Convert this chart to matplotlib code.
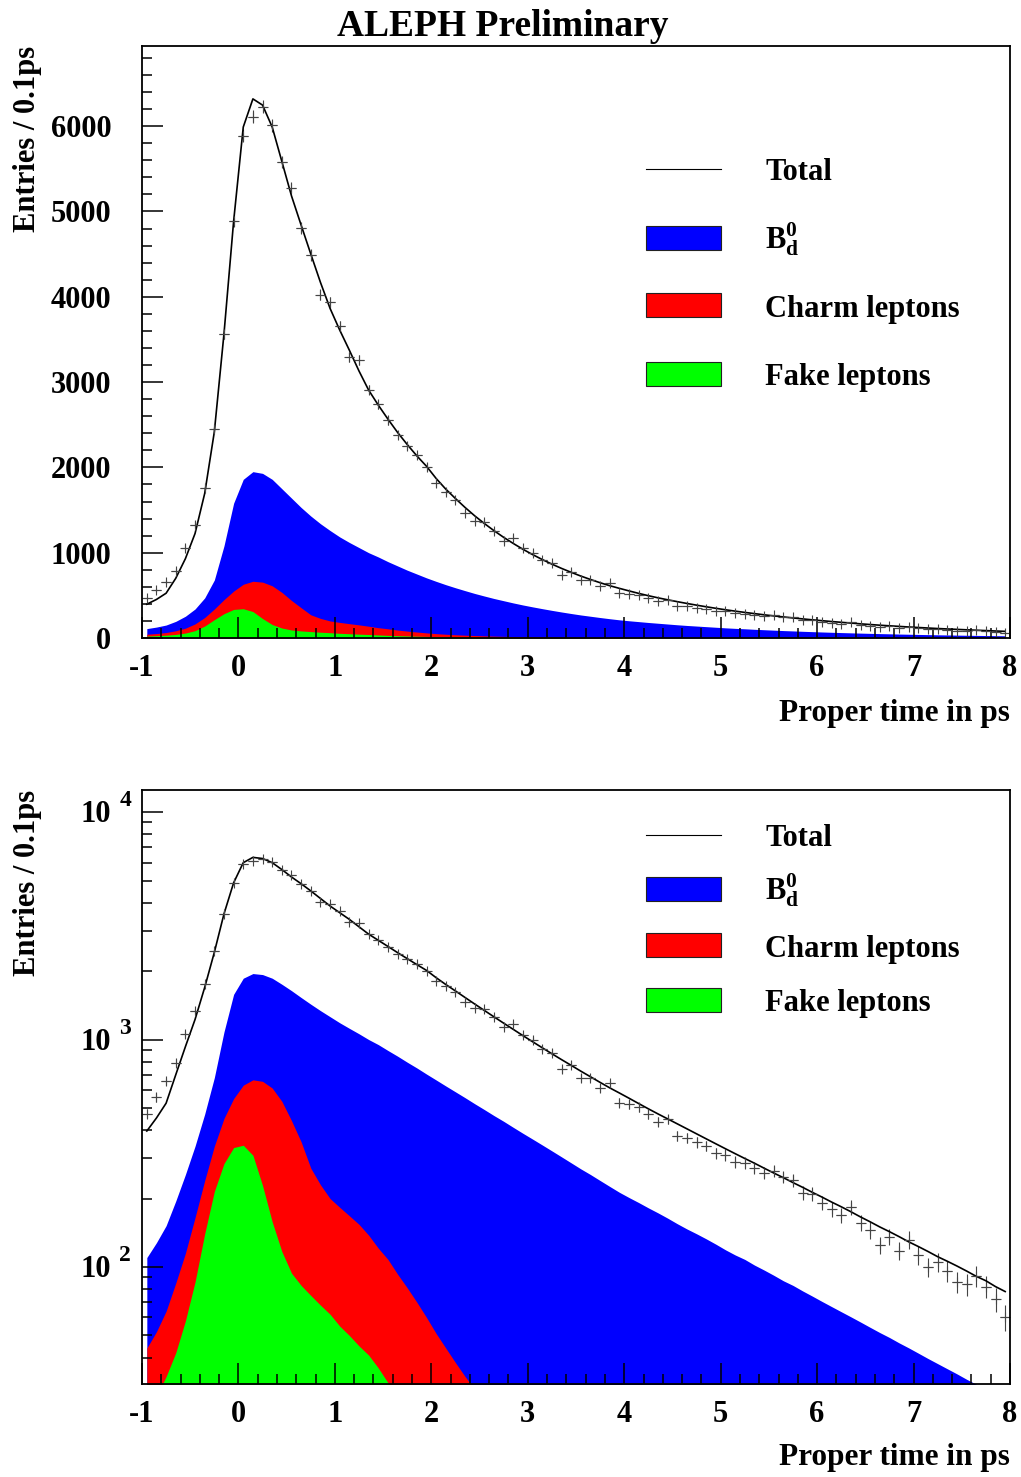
import numpy as np
import matplotlib
matplotlib.use("Agg")
import matplotlib.pyplot as plt
from matplotlib.patches import Rectangle
from matplotlib.lines import Line2D
from matplotlib.ticker import MultipleLocator, LogLocator, NullFormatter

plt.rcParams['font.family'] = ['Liberation Serif', 'DejaVu Serif']
plt.rcParams['font.weight'] = 'bold'
plt.rcParams['mathtext.fontset'] = 'custom'
plt.rcParams['mathtext.rm'] = 'Liberation Serif:bold'
plt.rcParams['mathtext.bf'] = 'Liberation Serif:bold'
plt.rcParams['mathtext.it'] = 'Liberation Serif:bold'
plt.rcParams['axes.unicode_minus'] = False

# bins of 0.1 ps from -1 to 8
bin_lo = -1.0
bin_w = 0.1

# measured entries per bin
data_counts = [
    472, 557, 654, 791, 1060, 1330, 1760, 2447, 3565, 4892,
    5890, 6110, 6230, 6010, 5580, 5275, 4805, 4490, 4025, 3935,
    3655, 3290, 3260, 2910, 2740, 2550, 2377, 2252, 2140, 2005,
    1815, 1712, 1617, 1468, 1369, 1356, 1255, 1140, 1175, 1050,
    995, 912, 875, 740, 776, 676, 680, 611, 641, 528,
    520, 505, 471, 436, 447, 376, 370, 354, 341, 316,
    311, 290, 287, 273, 260, 264, 249, 241, 212, 210,
    192, 179, 169, 183, 156, 145, 125, 136, 118, 132,
    113, 100, 105, 96, 86, 84, 91, 82, 72, 60,
]

# fitted total
total_fit = [
    396, 452, 525, 700, 930, 1225, 1694, 2417, 3566, 4885,
    5990, 6320, 6247, 5990, 5587, 5183, 4840, 4502, 4170, 3864,
    3610, 3374, 3130, 2906, 2730, 2566, 2410, 2268, 2135, 2013,
    1870, 1745, 1635, 1530, 1432, 1342, 1258, 1180, 1108, 1040,
    978, 920, 866, 816, 770, 726, 686, 648, 613, 582,
    552, 523, 496, 471, 448, 426, 405, 385, 366, 348,
    331, 315, 300, 286, 272, 259, 247, 235, 224, 213,
    203, 193, 184, 175, 166, 158, 150, 143, 136, 129,
    123, 117, 111, 106, 101, 96, 91, 87, 82, 78,
]

# B0d component
bd0 = [
    110, 128, 152, 195, 255, 340, 470, 680, 1080, 1580,
    1860, 1950, 1930, 1860, 1750, 1640, 1530, 1430, 1340, 1260,
    1185, 1120, 1060, 1000, 950, 895, 845, 795, 750, 705,
    664, 625, 589, 555, 522, 492, 463, 437, 411, 387,
    365, 344, 324, 305, 287, 270, 255, 240, 226, 213,
    202, 192, 182, 173, 164, 155, 147, 140, 133, 126,
    119, 113, 108, 102, 97, 92, 87, 83, 78.5, 74.5,
    70.6, 67.0, 63.6, 60.4, 57.3, 54.3, 51.5, 49.0, 46.4, 44.1,
    41.8, 39.6, 37.6, 35.7, 33.9, 32.1, 30.5, 29.0, 27.5, 26.1,
]

# charm leptons
charm = [
    44, 52, 64, 85, 115, 165, 240, 340, 450, 550,
    630, 665, 655, 612, 535, 440, 355, 272, 230, 200,
    183, 168, 154, 138, 121, 108, 93, 81, 70, 60,
    51, 44, 38, 33, 29, 25, 22, 19, 17, 15,
    13, 11.5, 10, 9, 8, 7, 6.2, 5.5, 4.8, 4.2,
    3.7, 3.3, 2.9, 2.6, 2.3, 2.0, 1.8, 1.6, 1.4, 1.2,
    1.1, 1.0, 0.9, 0.8, 0.7, 0.6, 0.55, 0.5, 0.45, 0.4,
    0.35, 0.32, 0.29, 0.26, 0.23, 0.2, 0.18, 0.16, 0.14, 0.12,
    0.11, 0.1, 0.09, 0.08, 0.07, 0.06, 0.05, 0.05, 0.04, 0.04,
]

# fake leptons
fake = [
    22, 27, 33, 42, 58, 86, 140, 215, 285, 335,
    343, 310, 228, 158, 117, 94, 83, 75, 68, 62,
    55, 50, 45, 41, 36, 31, 27, 24, 21, 18.5,
    16, 14, 12, 10.5, 9, 8, 7, 6, 5.2, 4.5,
    4, 3.5, 3, 2.6, 2.3, 2, 1.7, 1.5, 1.3, 1.1,
    1.0, 0.9, 0.8, 0.7, 0.6, 0.5, 0.45, 0.4, 0.35, 0.3,
    0.27, 0.24, 0.21, 0.19, 0.17, 0.15, 0.13, 0.12, 0.1, 0.09,
    0.08, 0.07, 0.06, 0.05, 0.05, 0.04, 0.04, 0.03, 0.03, 0.03,
    0.02, 0.02, 0.02, 0.02, 0.02, 0.01, 0.01, 0.01, 0.01, 0.01,
]

x_ticks = [-1, 0, 1, 2, 3, 4, 5, 6, 7, 8]
x_ticklabels = ['-1', '0', '1', '2', '3', '4', '5', '6', '7', '8']
lin_yticks = [0, 1000, 2000, 3000, 4000, 5000, 6000]
log_decades = [2, 3, 4]

t = bin_lo + bin_w * (np.arange(len(data_counts)) + 0.5)
counts = np.array(data_counts, dtype=float)
err = np.sqrt(counts)

W, H = 1021, 1477
fig = plt.figure(figsize=(W / 100, H / 100), dpi=100)


def fx(px):
    return px / W


def fy(py):
    return 1 - py / H


ax1 = fig.add_axes([fx(142), fy(638), fx(1010) - fx(142), fy(46) - fy(638)])
ax2 = fig.add_axes([fx(142), fy(1384), fx(1010) - fx(142), fy(790) - fy(1384)])

BLUE, RED, GREEN = '#0000ff', '#ff0000', '#00ff00'

for ax, base in ((ax1, 0.0), (ax2, 1e-3)):
    ax.fill_between(t, base, bd0, color=BLUE, lw=0)
    ax.fill_between(t, base, charm, color=RED, lw=0)
    ax.fill_between(t, base, fake, color=GREEN, lw=0)
    ax.errorbar(t, counts, xerr=bin_w / 2, yerr=err, fmt='+', ms=7,
                color='#444444', elinewidth=0.8, mew=0.8, capsize=0)
    ax.plot(t, total_fit, color='black', lw=1.2)
    ax.set_xlim(-1, 8)
    ax.set_xticks(x_ticks)
    ax.set_xticklabels(x_ticklabels)
    ax.xaxis.set_minor_locator(MultipleLocator(0.2))
    ax.tick_params(axis='both', which='both', direction='in', top=False,
                   right=False, width=1.1, labelsize=22)
    ax.tick_params(axis='both', which='major', length=15)
    ax.tick_params(axis='both', which='minor', length=7.5)
    ax.tick_params(axis='x', pad=11.5)
    for s in ax.spines.values():
        s.set_linewidth(1.3)

# linear panel
ax1.set_ylim(0, 6940)
ax1.set_yticks(lin_yticks)
ax1.yaxis.set_minor_locator(MultipleLocator(200))
ax1.tick_params(axis='y', pad=22)

# log panel
ax2.set_yscale('log')
ax2.set_ylim(30.6, 12500)
ax2.yaxis.set_major_locator(LogLocator(base=10, numticks=10))
ax2.yaxis.set_minor_locator(LogLocator(base=10, subs=np.arange(2, 10), numticks=20))
ax2.yaxis.set_major_formatter(NullFormatter())
ax2.yaxis.set_minor_formatter(NullFormatter())
ax2.tick_params(axis='y', which='major', length=15)
for d in log_decades:
    ax2.annotate('10', xy=(-0.036, 10 ** d), xycoords=ax2.get_yaxis_transform(),
                 xytext=(0, -2), textcoords='offset points',
                 ha='right', va='center', fontsize=22, fontweight='bold')
    ax2.annotate(str(d), xy=(-0.026, 10 ** d), xycoords=ax2.get_yaxis_transform(),
                 xytext=(0, 8), textcoords='offset points',
                 ha='left', va='center', fontsize=17, fontweight='bold')

# titles and axis labels
fig.text(fx(503), fy(27), 'ALEPH Preliminary', ha='center', va='center',
         fontsize=27, fontweight='bold')
for top, xl_y in ((46, 714), (790, 1458)):
    fig.text(fx(27), fy(top), 'Entries / 0.1ps', rotation=90, ha='center',
             va='top', fontsize=22, fontweight='bold')
    fig.text(fx(1010), fy(xl_y), 'Proper time in ps', ha='right',
             va='center', fontsize=22.5, fontweight='bold')

# legends (figure pixel positions)
legend_items = [('line', 'Total', None), ('box', r'$\mathbf{B_d^0}$', BLUE),
                ('box', 'Charm leptons', RED), ('box', 'Fake leptons', GREEN)]
legend_rows = [[169, 238, 305, 374], [835, 889, 945, 1000]]
for rows in legend_rows:
    for (kind, label, col), py in zip(legend_items, rows):
        if kind == 'line':
            fig.add_artist(Line2D([fx(646), fx(721)], [fy(py), fy(py)],
                                  color='black', lw=0.8))
            shift = 4
        else:
            fig.add_artist(Rectangle((fx(646), fy(py + 12)), fx(721) - fx(646),
                                     fy(py - 12) - fy(py + 12), facecolor=col,
                                     edgecolor='#222222', lw=0.8))
            shift = 4 if '$' not in label else 1
        fig.text(fx(765), fy(py + shift), label, ha='left', va='center',
                 fontsize=22, fontweight='bold')

fig.savefig('out.png', dpi=100)
plt.close(fig)
